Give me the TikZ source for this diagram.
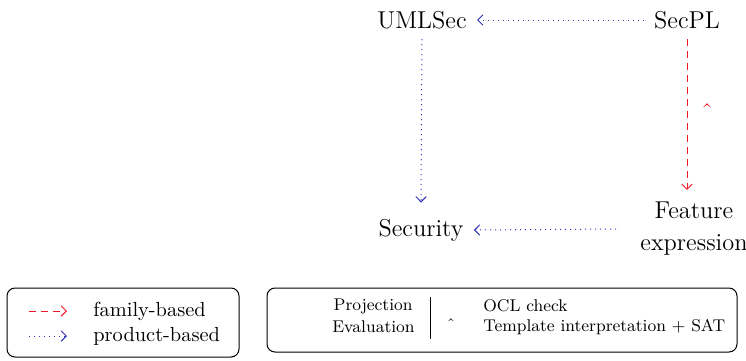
\documentclass[tikz,border=0pt]{standalone}
\usepackage{tikz}
\usetikzlibrary{positioning, arrows.meta}

\definecolor{famred}{RGB}{235,25,40}
\definecolor{prodblue}{RGB}{50,50,180}

\begin{document}
\begin{tikzpicture}[x=0.5pt, y=-0.5pt, >={Straight Barb[length=2.6pt, width=5.2pt]}]
            \def\mainsz{\fontsize{12.2}{16}\selectfont}
            \def\legsz{\fontsize{10.2}{13}\selectfont}
            \def\smlsz{\fontsize{8.5}{11}\selectfont}
            \tikzset{
                fam/.style={->, famred, dash pattern=on 3.5pt off 2.5pt, line width=0.5pt},
                prod/.style={->, prodblue, dotted, line width=0.5pt},
                lbl/.style={inner sep=0pt, font=\mainsz},
                box/.style={draw, rounded corners=4pt, line width=0.5pt}
            }
            \useasboundingbox (0,0) rectangle (746,360);
            % the four corners
            \node[lbl] (uml) at (422, 20) {UMLSec};
            \node[lbl] (spl) at (687, 20) {SecPL};
            \node[lbl] (sec) at (421, 230) {Security};
            \node[lbl, align=center] (fex) at (694, 229) {Feature\\expression};
            \draw[prod] ([xshift=-5pt]spl.west) -- ([xshift=5pt]uml.east);
            \draw[prod] ([yshift=-5pt]uml.south) -- ([yshift=8pt]sec.north);
            \draw[fam] ([yshift=-5pt]spl.south) -- ([yshift=6pt]fex.north -| spl);
            \node[famred, font=\mainsz] (hat1) at (707, 112) {\char"02C6};
            \draw[prod] ([xshift=-12pt]fex.west) -- ([xshift=5pt]sec.east);
            % legend
            \draw[box] (7,288) rectangle (239,357);
            \coordinate (f0) at (29,311);
            \coordinate (f1) at (67,311);
            \coordinate (p0) at (29,336);
            \coordinate (p1) at (67,336);
            \draw[fam] (f0) -- (f1);
            \draw[prod] (p0) -- (p1);
            \node[anchor=west, inner sep=0pt, font=\legsz] (fb) at (93,311) {family-based};
            \node[anchor=west, inner sep=0pt, font=\legsz] (pb) at (93,336) {product-based};
            % methods
            \draw[box] (267,288) rectangle (737,352);
            \node[anchor=east, inner sep=0pt, font=\smlsz] (proj) at (413,306) {Projection};
            \node[anchor=east, inner sep=0pt, font=\smlsz] (eval) at (415,327) {Evaluation};
            \draw (430,297) -- (430,339);
            \node[font=\smlsz] (hat2) at (451,325) {\char"02C6};
            \node[anchor=west, inner sep=0pt, font=\smlsz] (ocl) at (483,306) {OCL check};
            \node[anchor=west, inner sep=0pt, font=\smlsz] (tpl) at (483,327) {Template interpretation + SAT};
        \end{tikzpicture}
\end{document}
